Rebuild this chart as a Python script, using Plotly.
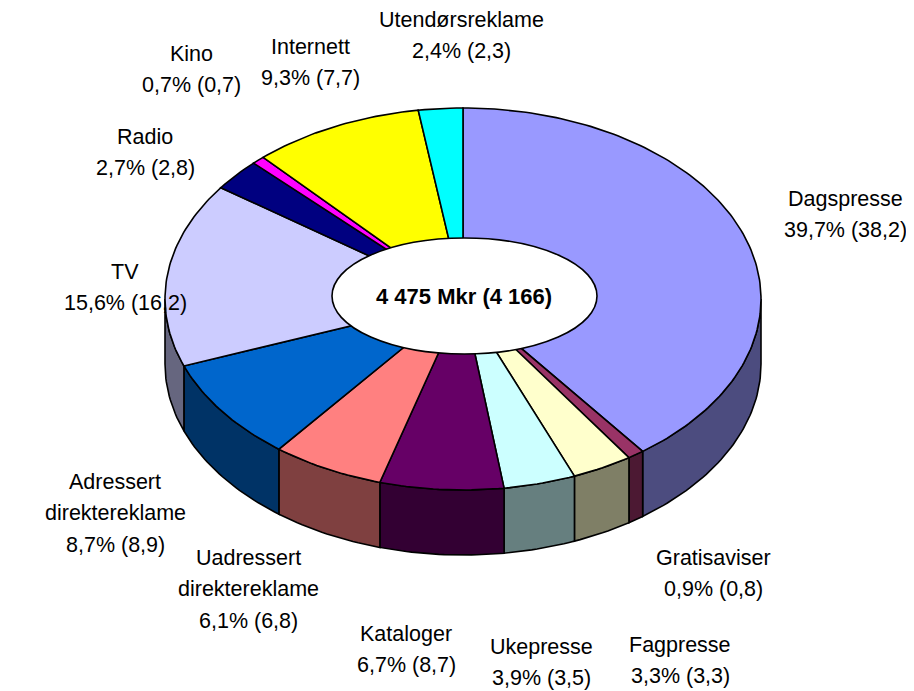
import numpy as np
import plotly.graph_objects as go

# ---------------- data ----------------
categories = ["Dagspresse", "Gratisaviser", "Fagpresse", "Ukepresse", "Kataloger",
              "Uadressert direktereklame", "Adressert direktereklame", "TV", "Radio",
              "Kino", "Internett", "Utendørsreklame"]
share = [39.7, 0.9, 3.3, 3.9, 6.7, 6.1, 8.7, 15.6, 2.7, 0.7, 9.3, 2.4]
share_prev = [38.2, 0.8, 3.3, 3.5, 8.7, 6.8, 8.9, 16.2, 2.8, 0.7, 7.7, 2.3]
total_mkr = 4475
total_prev_mkr = 4166

# ---------------- styles ----------------
top_colors = ["#9999FF", "#993366", "#FFFFCC", "#CCFFFF", "#660066", "#FF8080",
              "#0066CC", "#CCCCFF", "#000080", "#FF00FF", "#FFFF00", "#00FFFF"]


def darker(hexcol, f=0.5):
    h = hexcol.lstrip("#")
    r, g, b = (int(h[i:i + 2], 16) for i in (0, 2, 4))
    return "#%02X%02X%02X" % (int(r * f), int(g * f), int(b * f))


side_colors = [darker(c) for c in top_colors]

# label anchor (x centre, y of first line) in page pixel space
label_pos = {
    "Dagspresse": (845, 199),
    "Gratisaviser": (713, 558),
    "Fagpresse": (680, 645),
    "Ukepresse": (541, 647),
    "Kataloger": (406, 634),
    "Uadressert direktereklame": (248, 558),
    "Adressert direktereklame": (115, 482),
    "TV": (125, 272),
    "Radio": (145, 137),
    "Kino": (191, 54),
    "Internett": (310, 47),
    "Utendørsreklame": (461, 20),
}
line_step = 31.3
font_family = "Liberation Sans, Arial, sans-serif"
font_size = 21.5

# page is offset by the body's 8px margin; axes map data units to page pixels
PAGE_W, PAGE_H, OFF = 914, 691, 8
cx, cy, rx, ry, depth = 463, 299, 298, 191, 65

# ---------------- geometry from data ----------------
vals = np.array(share, dtype=float)
cum = np.concatenate([[0], np.cumsum(vals)]) / vals.sum()
ang0 = cum[:-1] * 2 * np.pi
ang1 = cum[1:] * 2 * np.pi


def ex(t):
    return cx + rx * np.sin(t)


def ey(t):
    return cy - ry * np.cos(t)


fig = go.Figure()
lw = 1.6

# sides (front half: pi/2 .. 3pi/2)
for i, name in enumerate(categories):
    a = max(ang0[i], np.pi / 2)
    b = min(ang1[i], 3 * np.pi / 2)
    if b <= a:
        continue
    n = max(int((b - a) / (2 * np.pi) * 360), 4)
    t = np.linspace(a, b, n)
    xs = np.concatenate([ex(t), ex(t[::-1]), [ex(t[0])]])
    ys = np.concatenate([ey(t), ey(t[::-1]) + depth, [ey(t[0])]])
    fig.add_trace(go.Scatter(x=xs, y=ys, mode="lines", fill="toself",
                             fillcolor=side_colors[i],
                             line=dict(color="black", width=lw),
                             hoverinfo="skip", showlegend=False))

# top faces
for i, name in enumerate(categories):
    n = max(int((ang1[i] - ang0[i]) / (2 * np.pi) * 360), 3)
    t = np.linspace(ang0[i], ang1[i], n)
    xs = np.concatenate([[cx], ex(t), [cx]])
    ys = np.concatenate([[cy], ey(t), [cy]])
    fig.add_trace(go.Scatter(x=xs, y=ys, mode="lines", fill="toself",
                             fillcolor=top_colors[i],
                             line=dict(color="black", width=lw),
                             name=name,
                             hovertemplate=f"{name}: {share[i]}%<extra></extra>",
                             showlegend=False))


def fmt(v):
    return f"{v:.1f}".replace(".", ",")


annotations = []
for i, name in enumerate(categories):
    words = name.split(" ")
    lines = words + [f"{fmt(share[i])}% ({fmt(share_prev[i])})"]
    x0, y0 = label_pos[name]
    for k, ln in enumerate(lines):
        annotations.append(dict(x=x0, y=y0 + k * line_step, xref="x", yref="y",
                                text=ln, showarrow=False, xanchor="center",
                                yanchor="middle",
                                font=dict(family=font_family, size=font_size,
                                          color="black")))

total_txt = (f"{total_mkr:,}".replace(",", " ") + " Mkr ("
             + f"{total_prev_mkr:,}".replace(",", " ") + ")")
annotations.append(dict(x=464, y=296, xref="x", yref="y", text=f"<b>{total_txt}</b>",
                        showarrow=False, xanchor="center", yanchor="middle",
                        font=dict(family=font_family, size=22, color="black")))

fig.update_layout(
    width=PAGE_W - OFF, height=PAGE_H - OFF,
    margin=dict(l=0, r=0, t=0, b=0),
    paper_bgcolor="white", plot_bgcolor="white",
    xaxis=dict(range=[OFF, PAGE_W], visible=False, fixedrange=True),
    yaxis=dict(range=[PAGE_H, OFF], visible=False, fixedrange=True),
    annotations=annotations,
    shapes=[dict(type="circle", xref="x", yref="y", x0=332, x1=597, y0=238, y1=354,
                 fillcolor="white", line=dict(color="black", width=lw), layer="above")],
)

fig.write_html("out.html")
